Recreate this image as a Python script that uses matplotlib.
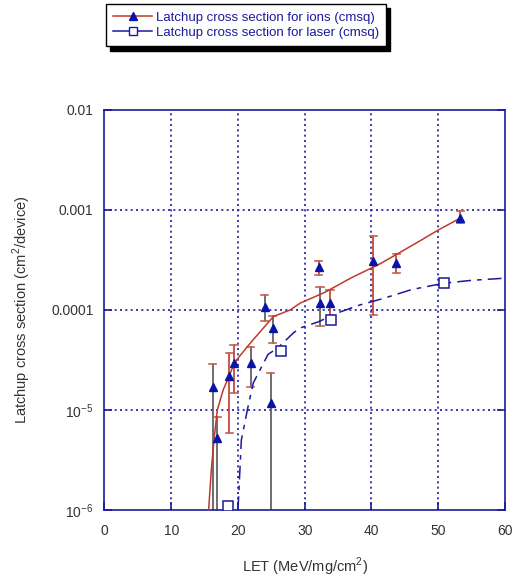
import numpy as np
import matplotlib
matplotlib.use("Agg")
import matplotlib.pyplot as plt
from matplotlib.lines import Line2D
from matplotlib.ticker import FixedLocator, FixedFormatter

plt.rcParams['font.family'] = ['Liberation Sans', 'DejaVu Sans']

# ion measurements (LET, cross section, error bar top/bottom, bar colour)
ion_let = [16.2, 16.9, 18.7, 19.4, 21.9, 24.0, 24.9, 25.2, 32.1, 32.3, 33.8, 40.3, 43.7, 53.3]
ion_xs = [1.71e-5, 5.3e-6, 2.19e-5, 2.93e-5, 2.93e-5, 1.08e-4, 1.18e-5, 6.56e-5,
          2.67e-4, 1.17e-4, 1.17e-4, 3.09e-4, 2.97e-4, 8.26e-4]
ion_hi = [2.88e-5, 8.6e-6, 3.74e-5, 4.43e-5, 4.24e-5, 1.41e-4, 2.36e-5, 8.7e-5,
          3.07e-4, 1.69e-4, 1.58e-4, 5.53e-4, 3.63e-4, 9.84e-4]
ion_lo = [1e-7, 1e-7, 5.93e-6, 1.49e-5, 1.71e-5, 7.76e-5, 1e-7, 4.64e-5,
          2.26e-4, 6.92e-5, 8.45e-5, 8.9e-5, 2.33e-4, 7.36e-4]
ion_bar = ["grey", "grey", "red", "red", "grey", "grey", "grey", "grey",
           "red", "grey", "red", "red", "red", "red"]

# laser measurements
laser_let = [18.5, 26.4, 33.9, 50.8]
laser_xs = [1.1e-6, 3.86e-5, 7.9e-5, 1.87e-4]

# fitted curves
ion_fit_let = [15.6, 16.0, 16.4, 16.9, 17.8, 18.7, 19.4, 20.0, 22.0, 25.3, 27.8,
               29.3, 33.0, 36.8, 41.3, 43.6, 47.0, 50.0, 53.3]
ion_fit_xs = [1e-6, 2.5e-6, 5e-6, 1e-5, 1.6e-5, 2.2e-5, 2.9e-5, 3.3e-5, 4.8e-5, 8.6e-5,
              1.0e-4, 1.17e-4, 1.5e-4, 2.07e-4, 2.9e-4, 3.55e-4, 4.8e-4, 6.3e-4, 8.3e-4]
laser_fit_let = [20.0, 20.5, 21.5, 22.3, 24.5, 26.0, 28.3, 29.3, 32.0, 35.2, 38.2,
                 41.7, 46.0, 50.8, 55.0, 60.0]
laser_fit_xs = [1e-6, 5e-6, 1.08e-5, 1.87e-5, 3.6e-5, 4.2e-5, 5.9e-5, 6.6e-5, 7.6e-5,
                9.5e-5, 1.12e-4, 1.3e-4, 1.6e-4, 1.85e-4, 1.98e-4, 2.08e-4]

x_ticks = [0, 10, 20, 30, 40, 50, 60]
y_ticks = [1e-6, 1e-5, 1e-4, 1e-3, 1e-2]
y_labels = [r"10$^{\mathregular{-6}}$", r"10$^{\mathregular{-5}}$", "0.0001", "0.001", "0.01"]

navy = "#1a1a9c"
red = "#c0392b"
cap_red = "#c8604c"
grey = "#555555"
tri_blue = "#0a14a8"

fig = plt.figure(figsize=(5.13, 5.81), dpi=100)
ax = fig.add_axes([0.2037, 0.1222, 0.7807, 0.6885])

ax.set_xscale("linear")
ax.set_yscale("log")
ax.set_xlim(0, 60)
ax.set_ylim(1e-6, 1e-2)

for x in x_ticks[1:-1]:
    ax.axvline(x, color=navy, ls=(0, (1.2, 2)), lw=1.2, zorder=1)
for y in y_ticks[1:-1]:
    ax.axhline(y, color=navy, ls=(0, (1.2, 2)), lw=1.2, zorder=1)

ax.plot(ion_fit_let, ion_fit_xs, color=red, lw=1.1, zorder=3)
ax.plot(laser_fit_let, laser_fit_xs, color=navy, lw=1.1, ls=(0, (9, 4, 3, 4)), zorder=3)

for x, y, hi, lo, c in zip(ion_let, ion_xs, ion_hi, ion_lo, ion_bar):
    ax.plot([x, x], [lo, hi], color=red if c == "red" else grey, lw=1.2, zorder=2)
    ax.plot([x - 0.55, x + 0.55], [hi, hi], color=cap_red, lw=1.2, zorder=2)
    ax.plot([x - 0.55, x + 0.55], [lo, lo], color=cap_red, lw=1.2, zorder=2)

ax.plot(ion_let, ion_xs, ls="none", marker="^", ms=6, color=tri_blue, zorder=5)
ax.plot(laser_let, laser_xs, ls="none", marker="s", ms=6.5, mfc="white", mec=navy,
        mew=1.1, zorder=5)

for s in ax.spines.values():
    s.set_color(navy)
    s.set_linewidth(1.2)

ax.xaxis.set_major_locator(FixedLocator(x_ticks))
ax.yaxis.set_major_locator(FixedLocator(y_ticks))
ax.yaxis.set_major_formatter(FixedFormatter(y_labels))
ax.yaxis.set_minor_locator(FixedLocator([]))
ax.tick_params(direction="in", length=6, width=1.2, color=navy, labelcolor="#333333",
               labelsize=10, top=False, right=True)
ax.tick_params(axis="x", pad=10)
ax.tick_params(axis="y", pad=8)

ax.set_xlabel(r"LET (MeV/mg/cm$^{\mathregular{2}}$)", fontsize=10.5, color="#333333", labelpad=13)
ax.set_ylabel(r"Latchup cross section (cm$^{\mathregular{2}}$/device)", fontsize=10.5,
              color="#333333", labelpad=13)

handles = [
    Line2D([], [], color=red, lw=1.1, marker="^", ms=6, mfc=tri_blue, mec=tri_blue),
    Line2D([], [], color=navy, lw=1.1, marker="s", ms=6, mfc="white", mec=navy),
]
labels = ["Latchup cross section for ions (cmsq)", "Latchup cross section for laser (cmsq)"]
leg = fig.legend(handles, labels, loc="upper left", bbox_to_anchor=(0.207, 0.993),
                 fontsize=9.5, frameon=True, fancybox=False,
                 shadow={"ox": 3, "oy": -3, "color": "black", "alpha": 1},
                 edgecolor="black", handlelength=2.9, handletextpad=0.3,
                 borderpad=0.55, labelspacing=0.25, borderaxespad=0)
leg.get_frame().set_linewidth(1.0)
for t in leg.get_texts():
    t.set_color(navy)

fig.savefig("out.png", dpi=100)
